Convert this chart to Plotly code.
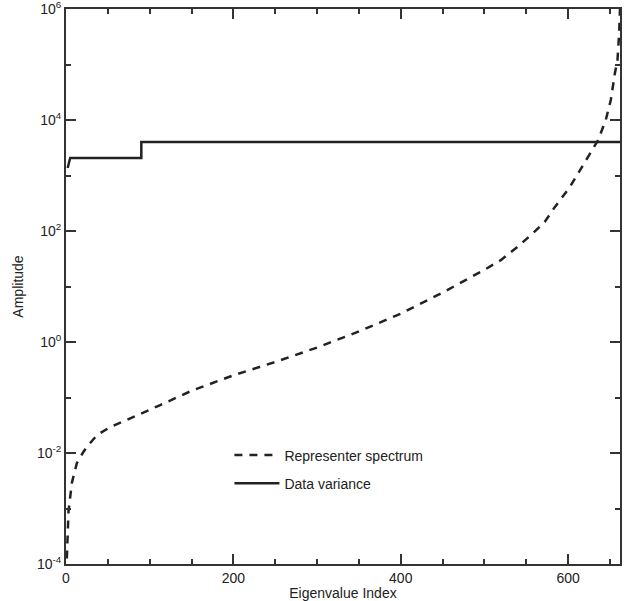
import plotly.graph_objects as go

# Representer spectrum (eigenvalue index, amplitude)
spec_idx = [1, 3, 7, 13, 20, 25, 37, 53, 72, 92, 112, 150, 200, 250, 300, 350, 400, 450,
            480, 500, 520, 540, 558, 572, 584, 602, 618, 636, 645, 651, 656, 659, 661, 662]
spec_amp = [1.26e-4, 8.9e-4, 2.9e-3, 6.6e-3, 0.010, 0.0129, 0.021, 0.0295, 0.039, 0.0525,
            0.0724, 0.132, 0.251, 0.437, 0.794, 1.55, 3.24, 7.76, 13.5, 20.0, 30.2, 52.5,
            91.2, 145, 269, 617, 1550, 4370, 1.0e4, 2.29e4, 7.08e4, 1.2e5, 3.72e5, 1.0e6]

# Data variance (step function)
var_idx = [2, 5, 90, 90, 662]
var_amp = [1365, 2070, 2070, 4020, 4020]

x_major = [0, 200, 400, 600]
y_major = [1e-4, 1e-2, 1e0, 1e2, 1e4, 1e6]
y_major_text = ["10<sup>-4</sup>", "10<sup>-2</sup>", "10<sup>0</sup>", "10<sup>2</sup>",
                "10<sup>4</sup>", "10<sup>6</sup>"]
y_minor = [1e-3, 1e-1, 1e1, 1e3, 1e5]

ink = "#222222"
axc = "#333333"
fam = "Liberation Sans, Arial, sans-serif"

fig = go.Figure()
fig.add_trace(go.Scatter(x=spec_idx, y=spec_amp, mode="lines", name="Representer spectrum",
                         legendgroup="a",
                         line=dict(color=ink, width=2.5, dash="8px,7px")))
fig.add_trace(go.Scatter(x=var_idx, y=var_amp, mode="lines", name="Data variance",
                         legendgroup="b",
                         line=dict(color=ink, width=2.5)))

fig.update_layout(
    width=624, height=601,
    margin=dict(l=66, r=4, t=9, b=37),
    paper_bgcolor="white", plot_bgcolor="white",
    font=dict(family=fam, size=14, color=ink),
    showlegend=True,
    legend=dict(x=0.295, y=0.2244, xanchor="left", yanchor="top", itemwidth=45,
                bgcolor="rgba(0,0,0,0)", tracegroupgap=7,
                font=dict(family=fam, size=14, color=ink)),
    xaxis=dict(range=[0, 662], showgrid=False, zeroline=False, automargin=False,
               showline=True, linecolor=axc, linewidth=2, mirror="ticks",
               ticks="inside", ticklen=10, tickwidth=2, tickcolor=axc,
               tickmode="array", tickvals=x_major, ticktext=[str(v) for v in x_major],
               tickfont=dict(size=14, color=ink), ticklabeloverflow="allow",
               minor=dict(dtick=50, tick0=0, ticks="inside", ticklen=5, tickwidth=2,
                          tickcolor=axc, showgrid=False),
               title=dict(text="Eigenvalue Index", standoff=0,
                          font=dict(size=14, color=ink))),
    yaxis=dict(type="log", range=[-4, 6], showgrid=False, zeroline=False, automargin=False,
               showline=True, linecolor=axc, linewidth=2, mirror="ticks",
               ticks="inside", ticklen=10, tickwidth=2, tickcolor=axc,
               tickmode="array", tickvals=y_major, ticktext=y_major_text,
               tickfont=dict(size=14, color=ink), ticklabeloverflow="allow",
               minor=dict(tickmode="array", tickvals=y_minor, ticks="inside", ticklen=5,
                          tickwidth=2, tickcolor=axc, showgrid=False),
               title=dict(text="Amplitude", standoff=10,
                          font=dict(size=14, color=ink))),
)

fig.write_html("out.html")
